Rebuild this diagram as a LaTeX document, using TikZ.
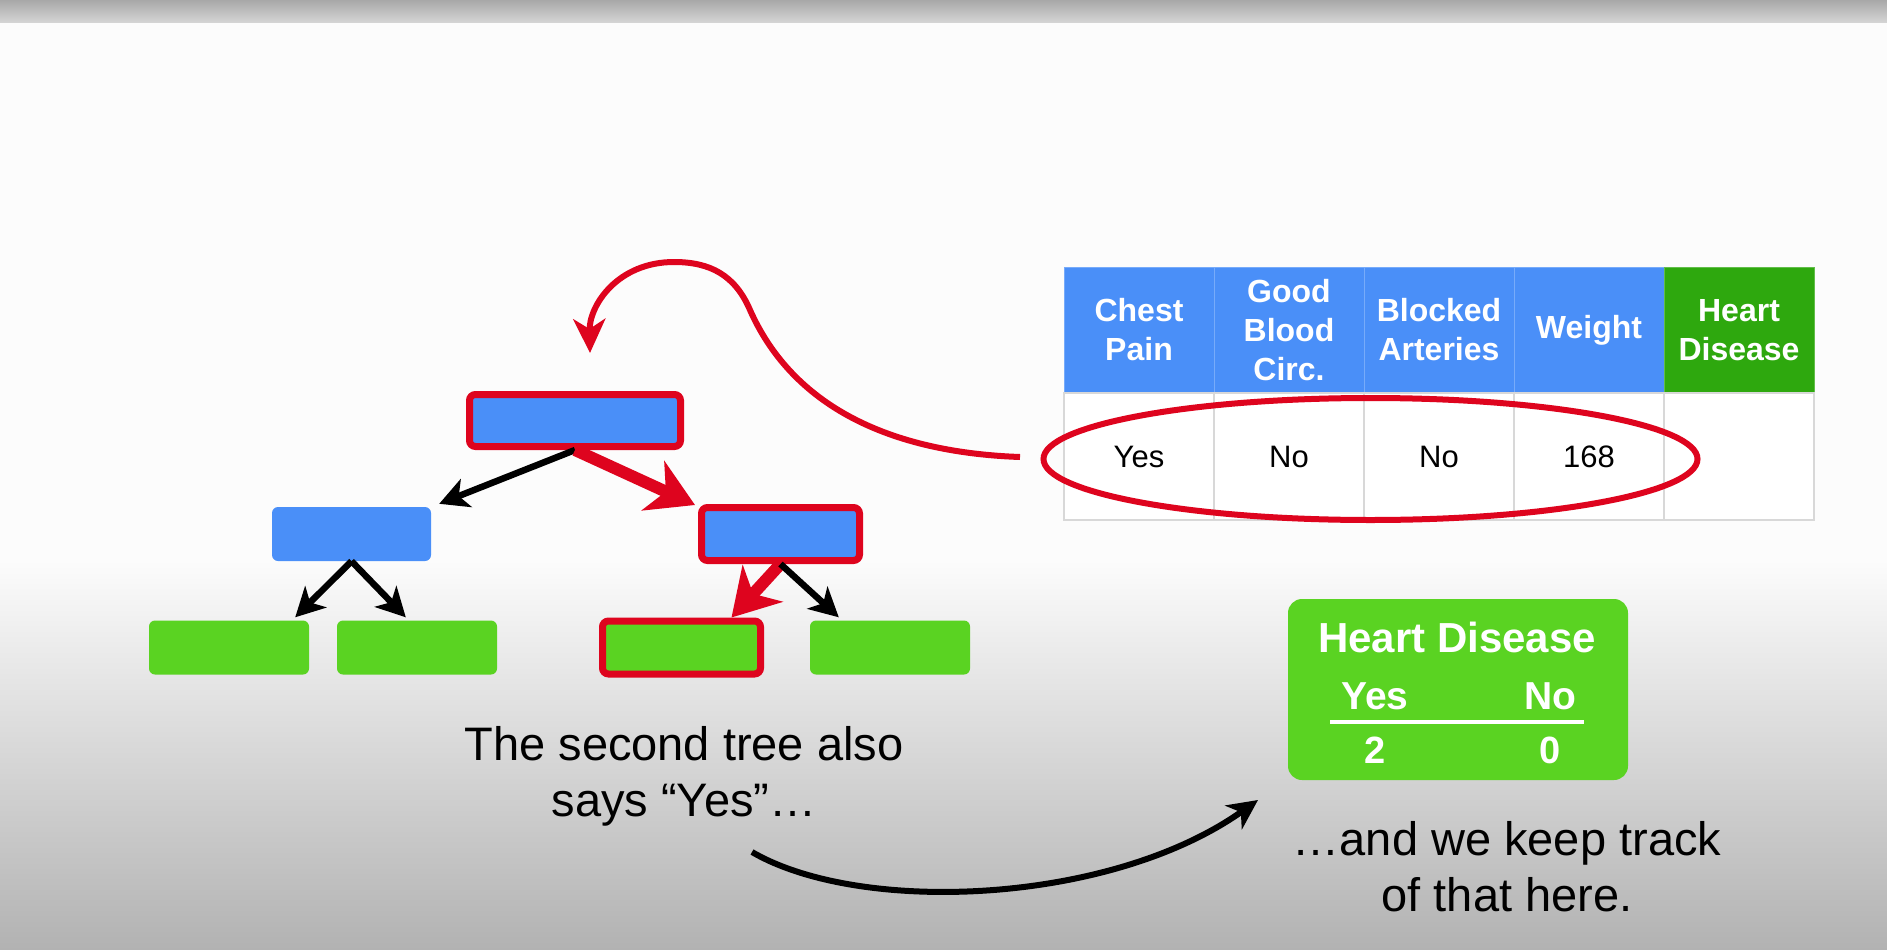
\documentclass[tikz,border=0pt]{standalone}
\usepackage{fontspec}
\setmainfont{Liberation Sans}
\usetikzlibrary{arrows.meta,shapes.geometric,calc}

\definecolor{nodeblue}{RGB}{74,143,248}
\definecolor{leafgreen}{RGB}{90,211,34}
\definecolor{headgreen}{RGB}{46,168,14}
\definecolor{pathred}{RGB}{222,4,30}
\definecolor{gridgray}{RGB}{216,216,216}
\definecolor{paper}{RGB}{252,252,252}
\definecolor{barhigh}{RGB}{168,168,168}
\definecolor{barlow}{RGB}{214,214,214}
\definecolor{floor}{RGB}{178,178,178}

\begin{document}
\begin{tikzpicture}[x=1pt,y=-1pt,
  treebox/.style={rectangle, rounded corners=6pt, inner sep=0pt, minimum width=159pt, minimum height=54pt},
  split/.style={treebox, fill=nodeblue},
  leaf/.style={treebox, fill=leafgreen},
  chosen/.style={draw=pathred, line width=7pt},
  hcell/.style={rectangle, fill=nodeblue, draw=nodeblue!75!white, line width=1pt,
    minimum width=150pt, minimum height=126pt, inner sep=0pt, text=white,
    font=\bfseries\fontsize{32}{39}\selectfont, align=center},
  rcell/.style={rectangle, fill=white, draw=gridgray, line width=1.2pt,
    minimum width=150pt, minimum height=127pt, inner sep=0pt,
    font=\fontsize{31}{36}\selectfont},
  blackarrow/.style={line width=6.5pt, -{Stealth[length=29pt,width=30pt,inset=8pt]}},
  redarrow/.style={draw=pathred, line width=12pt, -{Stealth[length=46pt,width=54pt,inset=14pt]}},
  caption/.style={align=center, font=\fontsize{47}{56}\selectfont, inner sep=0pt},
  tallytext/.style={text=white, inner sep=0pt, font=\bfseries\fontsize{39}{44}\selectfont}
]
\useasboundingbox (0,0) rectangle (1887,950);

% backdrop: white page, grey strip on top, grey fade at the bottom
\fill[paper] (0,0) rectangle (1887,950);
\shade[top color=barhigh, bottom color=barlow] (0,0) rectangle (1887,23);
\shade[top color=paper, bottom color=floor] (0,560) rectangle (1887,950);

% decision tree
\node[split, chosen, minimum width=211pt, minimum height=52pt] (root) at (575,420.5) {};
\node[split] (leftmid) at (351.5,534) {};
\node[split, chosen, minimum width=158pt, minimum height=53pt] (rightmid) at (780.5,534) {};
\node[leaf, minimum width=160pt] (leaf1) at (229,647.5) {};
\node[leaf, minimum width=160pt] (leaf2) at (417,647.5) {};
\node[leaf, chosen, minimum width=158pt, minimum height=53pt] (leaf3) at (681.5,647.5) {};
\node[leaf, minimum width=160pt] (leaf4) at (890,647.5) {};

\draw[blackarrow] (root.south) -- ($(leftmid.north east)+(8,-3)$);
\draw[redarrow] (root.south) -- ($(rightmid.north west)+(-3,1)$);
\draw[blackarrow] (leftmid.south) -- ($(leaf1.north east)+(-14,-3)$);
\draw[blackarrow] (leftmid.south) -- ($(leaf2.north west)+(69,-3)$);
\draw[redarrow] (rightmid.south) -- ($(leaf3.north)+(50,0)$);
\draw[blackarrow] (rightmid.south) -- ($(leaf4.north west)+(29,-3)$);

% data table
\node[hcell] (h1) at (1139,330) {Chest\\Pain};
\node[hcell] (h2) at (1289,330) {Good\\Blood\\Circ.};
\node[hcell] (h3) at (1439,330) {Blocked\\Arteries};
\node[hcell] (h4) at (1589,330) {Weight};
\node[hcell, fill=headgreen, draw=headgreen!75!white] (h5) at (1739,330) {Heart\\Disease};
\node[rcell] (r1) at (1139,456.5) {Yes};
\node[rcell] (r2) at (1289,456.5) {No};
\node[rcell] (r3) at (1439,456.5) {No};
\node[rcell] (r4) at (1589,456.5) {168};
\node[rcell] (r5) at (1739,456.5) {};

% ring around the sample row and the curve back to the tree
\node[ellipse, draw=pathred, line width=6pt, minimum width=654pt, minimum height=122pt, inner sep=0pt] (ring) at (1370.5,459) {};
\coordinate (tail) at (1020,457);
\coordinate (drop) at (590,353);
\draw[draw=pathred, line width=6pt, -{Stealth[length=34pt,width=32pt,inset=10pt]}]
  (tail) .. controls (880,452) and (790,400) .. (750,310)
         .. controls (735,275) and (710,262) .. (674,262)
         .. controls (618,262) and (589,305) .. (drop);

% tally box
\node[rectangle, rounded corners=14pt, fill=leafgreen, minimum width=340pt, minimum height=181pt, inner sep=0pt] (tally) at (1458,689.5) {};
\node[tallytext, font=\bfseries\fontsize{42}{46}\selectfont] (tallyhead) at (1457,637) {Heart Disease};
\node[tallytext] (yeslabel) at (1375,696) {Yes};
\node[tallytext] (nolabel) at (1550,696) {No};
\node[tallytext, font=\bfseries\fontsize{38}{44}\selectfont] (yescount) at (1375,750) {2};
\node[tallytext, font=\bfseries\fontsize{38}{44}\selectfont] (nocount) at (1550,750) {0};
\coordinate (ruleleft) at (1330,722);
\coordinate (ruleright) at (1584,722);
\draw[white, line width=3.5pt] (ruleleft) -- (ruleright);

% captions and the arrow between them
\node[caption] (say) at (684,776) {The second tree also\\says “Yes”…};
\node[caption] (track) at (1507,867) {…and we keep track\\of that here.};
\coordinate (from) at (752,852);
\coordinate (to) at (1258,800);
\draw[line width=6pt, -{Stealth[length=30pt,width=29pt,inset=9pt]}]
  (from) .. controls (860,915) and (1110,905) .. (to);
\end{tikzpicture}
\end{document}
